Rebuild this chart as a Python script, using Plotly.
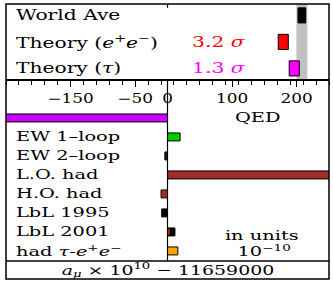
import plotly.graph_objects as go

# ---------------- data ----------------
top_labels = ["World Ave",
              "Theory (<i>e</i><sup>+</sup><i>e</i><sup>−</sup>)",
              "Theory (<i>τ</i>)"]
top_center = [208.0, 179.2, 196.2]
top_err = [6.0, 7.8, 7.8]
top_colors = ["#000000", "#ff0000", "#ff00ff"]
band_center = 208.0
band_half = 8.5

sig_text = ["3.2 <i>σ</i>", "1.3 <i>σ</i>"]
sig_rows = [1, 2]
sig_colors = ["#ff0000", "#ff00ff"]
sig_x = 79

bot_labels = ["QED", "EW 1–loop", "EW 2–loop", "L.O. had", "H.O. had",
              "LbL 1995", "LbL 2001",
              "had <i>τ</i>-<i>e</i><sup>+</sup><i>e</i><sup>−</sup>"]
bot_values = [-529.0, 19.5, -4.1, 6924.0, -10.0, -9.0, 11.5, 16.0]
bot_colors = ["#cc00ff", "#00cc00", "#003300", "#a52a2a", "#a52a2a",
              "#000000", "#000000", "#ffa500"]
lbl2001_inner = [0.8, 3.2]   # red inner part of LbL 2001 bar

x_ticks = [-150, -50, 0, 100, 200]
x_range = [-250, 250]

FONT = "DejaVu Serif"
SX_TOP = 1.35
SX_BOT = 1.55
SX_TITLE = 1.4
SX_TICK = 1.35

fig = go.Figure()

fig.add_trace(go.Bar(
    y=list(range(len(top_labels))), x=[2 * e for e in top_err],
    base=[c - e for c, e in zip(top_center, top_err)],
    orientation="h", width=0.57,
    marker=dict(color=top_colors, line=dict(color="black", width=1)),
    xaxis="x", yaxis="y2", showlegend=False, hoverinfo="skip"))

fig.add_trace(go.Bar(
    y=list(range(len(bot_labels))), x=bot_values, orientation="h", width=0.42,
    marker=dict(color=bot_colors, line=dict(color="black", width=1)),
    xaxis="x", yaxis="y", showlegend=False, hoverinfo="skip"))
fig.add_trace(go.Bar(
    y=[6], x=[lbl2001_inner[1] - lbl2001_inner[0]],
    base=[lbl2001_inner[0]], orientation="h", width=0.3,
    marker=dict(color="#ff2000", line=dict(width=0)),
    xaxis="x", yaxis="y", showlegend=False, hoverinfo="skip"))

H = 257.0
top_dom = 182.0 / H

fig.update_layout(
    width=333, height=284,
    margin=dict(l=6, r=4, t=4, b=23, autoexpand=False),
    paper_bgcolor="white", plot_bgcolor="white",
    barmode="overlay",
    font=dict(family=FONT, color="black", size=13),
    xaxis=dict(range=x_range, side="bottom", anchor="y2", automargin=False,
               showgrid=False, zeroline=False,
               showline=True, linecolor="black", linewidth=1.5,
               tickmode="array", tickvals=x_ticks,
               ticks="outside", ticklen=6, tickwidth=1, tickcolor="black",
               ticklabelstandoff=2,
               tickfont=dict(family=FONT, size=12.5),
               minor=dict(tickmode="linear", tick0=-250, dtick=20,
                          ticks="outside", ticklen=4, tickwidth=1,
                          tickcolor="black", showgrid=False)),
    yaxis=dict(domain=[0, top_dom], range=[7.53, -2.05], anchor="x",
               automargin=False, showticklabels=False,
               ticks="", showgrid=False, zeroline=False, showline=False),
    yaxis2=dict(domain=[top_dom, 1], range=[2.40, -0.43], anchor="x",
                automargin=False, showticklabels=False,
                ticks="", showgrid=False, zeroline=False, showline=False),
)

shapes = []
shapes.append(dict(type="rect", xref="x", yref="y2 domain",
                   x0=band_center - band_half, x1=band_center + band_half,
                   y0=0, y1=1, fillcolor="#c0c0c0", line=dict(width=0),
                   layer="below"))
shapes.append(dict(type="line", xref="x", yref="y domain",
                   x0=0, x1=0, y0=0, y1=1,
                   line=dict(color="black", width=1.2)))
shapes.append(dict(type="line", xref="x", yref="y2 domain",
                   x0=0, x1=0, y0=0.95, y1=1,
                   line=dict(color="black", width=1.2)))
box_bottom = -18.0 / H
shapes.append(dict(type="rect", xref="paper", yref="paper",
                   x0=0, x1=1, y0=box_bottom, y1=1,
                   line=dict(color="black", width=1.5)))
shapes.append(dict(type="line", xref="paper", yref="paper",
                   x0=0, x1=1, y0=0, y1=0,
                   line=dict(color="black", width=1.5)))
fig.update_layout(shapes=shapes)

LABEL_X = 8.0 / 323.0
ann = []
for i, t in enumerate(top_labels):
    ann.append(dict(x=LABEL_X, y=i, xref="paper", yref="y2", text=t,
                    showarrow=False, xanchor="left", yanchor="middle",
                    name="sx:%s" % SX_TOP, font=dict(family=FONT, size=15)))
for i, t in enumerate(bot_labels):
    if t == "QED":
        ann.append(dict(x=139, y=i, xref="x", yref="y", text=t,
                        showarrow=False, xanchor="center", yanchor="middle",
                        name="sx:%s" % SX_BOT,
                        font=dict(family=FONT, size=12.5)))
    else:
        ann.append(dict(x=LABEL_X, y=i, xref="paper", yref="y", text=t,
                        showarrow=False, xanchor="left", yanchor="middle",
                        name="sx:%s" % SX_BOT,
                        font=dict(family=FONT, size=12.5)))
for t, r, c in zip(sig_text, sig_rows, sig_colors):
    ann.append(dict(x=sig_x, y=r, xref="x", yref="y2", text=t,
                    showarrow=False, xanchor="center", yanchor="middle",
                    name="sx:%s" % SX_TOP,
                    font=dict(family=FONT, size=15, color=c)))
ann.append(dict(x=147, y=6.2, xref="x", yref="y", text="in units",
                showarrow=False, xanchor="center", yanchor="middle",
                name="sx:%s" % SX_BOT, font=dict(family=FONT, size=12.5)))
ann.append(dict(x=150, y=7.0, xref="x", yref="y", text="10<sup>−10</sup>",
                showarrow=False, xanchor="center", yanchor="middle",
                name="sx:%s" % SX_BOT, font=dict(family=FONT, size=12.5)))
ann.append(dict(x=0.5, y=box_bottom / 2, xref="paper", yref="paper",
                text="<i>a</i><sub><i>μ</i></sub> × 10<sup>10</sup> − 11659000",
                showarrow=False, xanchor="center", yanchor="middle",
                name="sx:%s" % SX_TITLE, font=dict(family=FONT, size=13.5)))
fig.update_layout(annotations=ann)

post = """
document.body.style.margin = '0';
document.documentElement.style.margin = '0';
var gd = document.getElementById('{plot_id}');
function stretchText(t, origin, pre, sx) {
  t.style.transformBox = 'fill-box';
  t.style.transformOrigin = origin;
  t.style.transform = (pre || '') + ' scaleX(' + sx + ')';
}
gd.querySelectorAll('g.annotation').forEach(function (g) {
  var i = +g.getAttribute('data-index');
  var a = gd.layout.annotations[i] || {};
  var t = g.querySelector('text.annotation-text');
  if (!t) return;
  var sx = 1;
  if (a.name && a.name.indexOf('sx:') === 0) sx = parseFloat(a.name.slice(3));
  var o = a.xanchor === 'left' ? '0%% 50%%' : (a.xanchor === 'right' ? '100%% 50%%' : '50%% 50%%');
  stretchText(t, o, '', sx);
});
gd.querySelectorAll('g.xtick text').forEach(function (t) {
  var tr = t.getAttribute('transform') || '';
  var m = tr.match(/translate\\(\\s*([-\\d.e]+)[\\s,]*([-\\d.e]*)\\s*\\)/);
  var pre = '';
  if (m) { pre = 'translate(' + m[1] + 'px,' + (m[2] ? m[2] : '0') + 'px)'; }
  stretchText(t, '50%% 50%%', pre, %s);
});
""" % SX_TICK

fig.write_html("out.html", post_script=post,
               config={"displayModeBar": False, "staticPlot": True})
